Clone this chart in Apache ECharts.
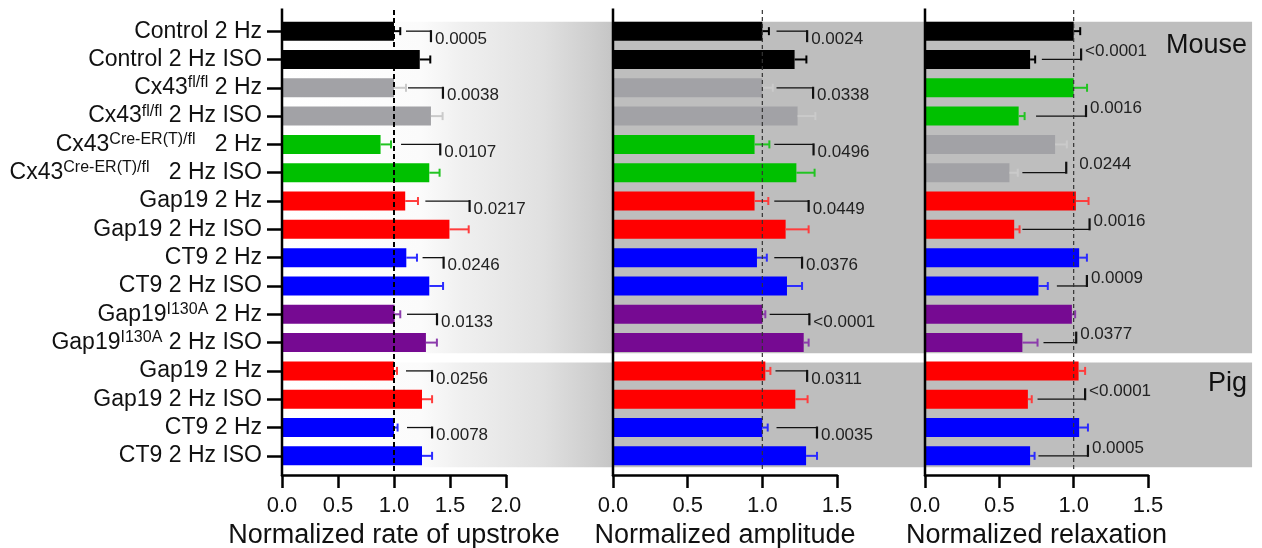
<!DOCTYPE html>
<html>
<head>
<meta charset="utf-8">
<script src="https://cdn.jsdelivr.net/npm/echarts@6/dist/echarts.min.js"></script>
<style>
  html, body { margin: 0; padding: 0; background: #fff; }
  #chart { width: 1262px; height: 548px; }
</style>
</head>
<body>
<div id="chart"></div>
<script>
// rows, top to bottom ({s|..} = superscript)
var rowLabels = [
  'Control 2 Hz', 'Control 2 Hz ISO',
  'Cx43{s|fl/fl} 2 Hz', 'Cx43{s|fl/fl} 2 Hz ISO',
  'Cx43{s|Cre-ER(T)/fl}   2 Hz', 'Cx43{s|Cre-ER(T)/fl}   2 Hz ISO',
  'Gap19 2 Hz', 'Gap19 2 Hz ISO',
  'CT9 2 Hz', 'CT9 2 Hz ISO',
  'Gap19{s|I130A} 2 Hz', 'Gap19{s|I130A} 2 Hz ISO',
  'Gap19 2 Hz', 'Gap19 2 Hz ISO',
  'CT9 2 Hz', 'CT9 2 Hz ISO'
];
var rowKeys = rowLabels.map(function (l, i) { return String(i) });

// bar colour keys per row
var mainColors = ['k', 'k', 'g', 'g', 'gr', 'gr', 'r', 'r', 'b', 'b', 'p', 'p', 'r', 'r', 'b', 'b'];
var relaxColors = ['k', 'k', 'gr', 'gr', 'g', 'g', 'r', 'r', 'b', 'b', 'p', 'p', 'r', 'r', 'b', 'b'];

// normalized rate of upstroke
var upMean = [1.0, 1.23, 1.0, 1.33, 0.88, 1.315, 1.10, 1.495, 1.11, 1.315, 1.005, 1.285, 1.0, 1.25, 1.0, 1.25];
var upErr = [0.056, 0.094, 0.107, 0.104, 0.093, 0.092, 0.114, 0.172, 0.095, 0.123, 0.051, 0.098, 0.027, 0.09, 0.032, 0.09];
// [row, bracket start, bracket end]
var upBr = [[0, 1.107, 1.33], [2, 1.125, 1.437], [4, 1.063, 1.413], [6, 1.28, 1.675],
  [8, 1.255, 1.443], [10, 1.116, 1.384], [12, 1.107, 1.34], [14, 1.116, 1.34]];
var upP = ['0.0005', '0.0038', '0.0107', '0.0217', '0.0246', '0.0133', '0.0256', '0.0078'];

// normalized amplitude
var ampMean = [1.0, 1.216, 1.0, 1.236, 0.948, 1.228, 0.948, 1.156, 0.964, 1.165, 1.0, 1.277, 1.02, 1.221, 1.0, 1.293];
var ampErr = [0.044, 0.079, 0.07, 0.119, 0.099, 0.122, 0.092, 0.154, 0.066, 0.101, 0.02, 0.033, 0.034, 0.082, 0.036, 0.073];
var ampBr = [[0, 1.095, 1.30], [2, 1.095, 1.34], [4, 1.08, 1.343], [6, 1.08, 1.31],
  [8, 1.08, 1.266], [10, 1.049, 1.315], [12, 1.088, 1.30], [14, 1.095, 1.366]];
var ampP = ['0.0024', '0.0338', '0.0496', '0.0449', '0.0376', '<0.0001', '0.0311', '0.0035'];

// normalized relaxation
var relMean = [1.0, 0.707, 1.0, 0.63, 0.875, 0.568, 1.015, 0.60, 1.037, 0.763, 0.988, 0.655, 1.033, 0.692, 1.037, 0.707];
var relErr = [0.044, 0.034, 0.09, 0.04, 0.079, 0.056, 0.085, 0.036, 0.052, 0.063, 0.022, 0.102, 0.044, 0.026, 0.059, 0.03];
var relBr = [[1, 0.786, 1.05], [3, 0.747, 1.083], [5, 0.655, 0.95], [7, 0.655, 1.107],
  [9, 0.887, 1.089], [11, 0.797, 1.017], [13, 0.757, 1.077], [15, 0.763, 1.096]];
var relP = ['<0.0001', '0.0016', '0.0244', '0.0016', '0.0009', '0.0377', '<0.0001', '0.0005'];
var relTextAt = [null, null, 1.037, null, null, null, null, null];

var FONT = '"Liberation Sans", Arial, Helvetica, sans-serif';
var barColor = { k: '#000000', g: '#a2a2a6', gr: '#00c000', r: '#ff0000', b: '#0000ff', p: '#760a92' };
var errColor = { k: '#000000', g: '#cacaca', gr: '#22c422', r: '#ff3c3c', b: '#2b2bff', p: '#8c3cac' };

var panels = [
  { name: 'Normalized rate of upstroke', max: 2, left: 282, width: 224, mean: upMean, err: upErr,
    br: upBr, p: upP, textAt: null, colors: mainColors, dir: 1, labels: true },
  { name: 'Normalized amplitude', max: 1.5, left: 613, width: 224, mean: ampMean, err: ampErr,
    br: ampBr, p: ampP, textAt: null, colors: mainColors, dir: 1, labels: false },
  { name: 'Normalized relaxation', max: 1.5, left: 925, width: 223, mean: relMean, err: relErr,
    br: relBr, p: relP, textAt: relTextAt, colors: relaxColors, dir: -1, labels: false }
];

function errRenderer(p) {
  return function (params, api) {
    var row = api.value(0)
    var a = api.coord([api.value(1), row])
    var b = api.coord([api.value(1) + api.value(2), row])
    var c = errColor[p.colors[params.dataIndex]]
    return {
      type: 'group',
      children: [
        { type: 'line', shape: { x1: a[0], y1: a[1], x2: b[0], y2: b[1] }, style: { stroke: c, lineWidth: 2 } },
        { type: 'line', shape: { x1: b[0], y1: b[1] - 4, x2: b[0], y2: b[1] + 4 }, style: { stroke: c, lineWidth: 2 } }
      ]
    }
  }
}

function bracketRenderer(p) {
  return function (params, api) {
    var i = params.dataIndex
    var row = api.value(0)
    var a = api.coord([api.value(1), row])
    var b = api.coord([api.value(2), row])
    var d = p.dir
    var tx = b[0] + 4
    if (p.textAt && p.textAt[i] != null) tx = api.coord([p.textAt[i], row])[0]
    return {
      type: 'group',
      children: [
        { type: 'line', shape: { x1: a[0], y1: a[1], x2: b[0], y2: b[1] }, style: { stroke: '#111', lineWidth: 1.3 } },
        { type: 'line', shape: { x1: b[0], y1: b[1] - d, x2: b[0], y2: b[1] + d * 11 }, style: { stroke: '#111', lineWidth: 2.2 } },
        { type: 'text', x: tx, y: a[1] + d * 8,
          style: { text: p.p[i], fontSize: 17, fontFamily: FONT, fill: '#222', align: 'left', verticalAlign: 'middle' } }
      ]
    }
  }
}

var option = {
  animation: false,
  backgroundColor: '#ffffff',
  grid: panels.map(function (p) {
    return { left: p.left, width: p.width, top: 17, height: 453, containLabel: false, outerBoundsMode: 'none' }
  }),
  xAxis: panels.map(function (p, i) {
    return {
      type: 'value', gridIndex: i, min: 0, max: p.max, interval: 0.5, offset: 5,
      axisLine: { show: true, lineStyle: { color: '#000', width: 2.5 } },
      axisTick: { show: true, length: 13, lineStyle: { color: '#000', width: 2.5 } },
      axisLabel: { fontSize: 22, fontFamily: FONT, color: '#111', margin: 20,
        formatter: function (v) { return v.toFixed(1) } },
      splitLine: { show: false },
      name: p.name, nameLocation: 'middle', nameGap: 38,
      nameTextStyle: { fontSize: 27, fontFamily: FONT, color: '#111' }
    }
  }),
  yAxis: panels.map(function (p, i) {
    return {
      type: 'category', gridIndex: i, inverse: true, data: rowKeys,
      axisLine: { show: false },
      axisTick: { show: p.labels, interval: 0, alignWithLabel: true, length: 15, lineStyle: { color: '#000', width: 2.5 } },
      axisLabel: {
        show: p.labels, interval: 0, fontSize: 23, fontFamily: FONT, color: '#111', margin: 20, lineHeight: 26,
        formatter: function (v, idx) { return rowLabels[idx] },
        rich: { s: { fontSize: 16, fontFamily: FONT, color: '#111', lineHeight: 13, verticalAlign: 'top' } }
      },
      splitLine: { show: false }
    }
  }),
  series: []
};

panels.forEach(function (p, i) {
  option.series.push({
    type: 'bar', xAxisIndex: i, yAxisIndex: i, barWidth: 19, silent: true, z: 2,
    data: p.mean.map(function (v, r) {
      return { value: v, itemStyle: { color: barColor[p.colors[r]] } }
    })
  })
  option.series.push({
    type: 'custom', xAxisIndex: i, yAxisIndex: i, silent: true, z: 3,
    encode: { x: 1, y: 0 },
    data: p.mean.map(function (v, r) { return [r, v, p.err[r]] }),
    renderItem: errRenderer(p)
  })
  option.series.push({
    type: 'custom', xAxisIndex: i, yAxisIndex: i, silent: true, z: 4,
    encode: { x: [1, 2], y: 0 },
    data: p.br,
    renderItem: bracketRenderer(p)
  })
})

var chart = echarts.init(document.getElementById('chart'))
chart.setOption(option)

// background bands, extended axis lines, reference lines, group names
function overlay() {
  var g0 = chart.convertToPixel({ gridIndex: 0 }, [0, 0])
  var g15 = chart.convertToPixel({ gridIndex: 0 }, [0, 15])
  var r0 = g0[1]
  var step = (g15[1] - r0) / 15
  var rowY = function (f) { return r0 + f * step }
  var axisY = rowY(15.5) + 5
  var x0 = g0[0]
  var p2 = chart.convertToPixel({ gridIndex: 1 }, [0, 0])[0]
  var x1 = chart.convertToPixel({ gridIndex: 2 }, [2.2, 0])[0]
  var span = p2 - x0
  var stopPx = [
    [x0, '#ffffff'], [x0 + 0.42 * span, '#fbfbfb'], [x0 + 0.54 * span, '#f0f0f0'],
    [x0 + 0.79 * span, '#e0e0e0'], [x0 + 0.93 * span, '#cfcfcf'], [p2, '#c5c5c5'],
    [p2 + 3, '#bebebe'], [x1, '#bebebe']
  ]
  function grad() {
    return new echarts.graphic.LinearGradient(0, 0, 1, 0, stopPx.map(function (s) {
      return { offset: (s[0] - x0) / (x1 - x0), color: s[1] }
    }))
  }
  var els = [
    { type: 'rect', silent: true, z: -10,
      shape: { x: x0, y: rowY(-0.33), width: x1 - x0, height: rowY(11.38) - rowY(-0.33) }, style: { fill: grad() } },
    { type: 'rect', silent: true, z: -10,
      shape: { x: x0, y: rowY(11.7), width: x1 - x0, height: rowY(15.4) - rowY(11.7) }, style: { fill: grad() } }
  ]
  panels.forEach(function (p, i) {
    var ax = chart.convertToPixel({ gridIndex: i }, [0, 0])[0]
    var one = chart.convertToPixel({ gridIndex: i }, [1, 0])[0]
    els.push({ type: 'line', silent: true, z: 30,
      shape: { x1: ax, y1: rowY(-0.8), x2: ax, y2: axisY + 1.25 },
      style: { stroke: '#000', lineWidth: 2.5 } })
    els.push({ type: 'line', silent: true, z: 20,
      shape: { x1: one, y1: rowY(-0.75), x2: one, y2: axisY - 4 },
      style: { stroke: i === 0 ? '#000' : '#333', lineWidth: i === 0 ? 2 : 1.2, lineDash: i === 0 ? [5, 3] : [4, 3] } })
  })
  els.push({ type: 'text', silent: true, z: 30, x: x1 - 5, y: rowY(0.5),
    style: { text: 'Mouse', fontSize: 27, fontFamily: FONT, fill: '#111', align: 'right', verticalAlign: 'middle' } })
  els.push({ type: 'text', silent: true, z: 30, x: x1 - 5, y: rowY(12.45),
    style: { text: 'Pig', fontSize: 27, fontFamily: FONT, fill: '#111', align: 'right', verticalAlign: 'middle' } })
  chart.setOption({ graphic: els })
}
overlay()
</script>
</body>
</html>
